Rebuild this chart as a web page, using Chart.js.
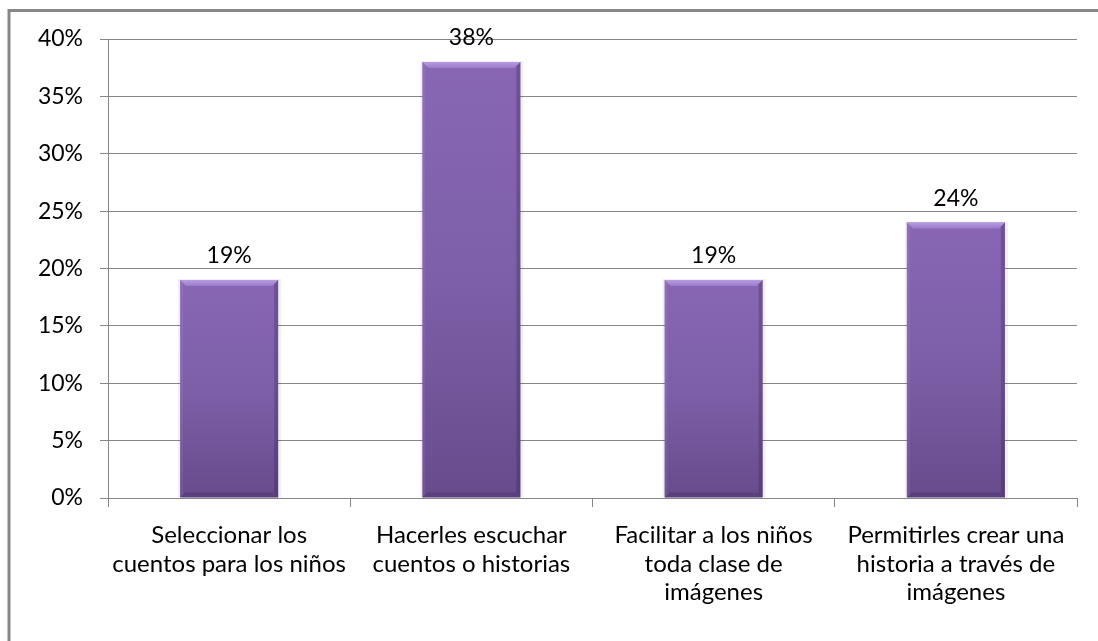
<!DOCTYPE html>
<html>
<head>
<meta charset="utf-8">
<script src="https://cdn.jsdelivr.net/npm/chart.js@4"></script>
<style>
    html, body { margin: 0; padding: 0; background: #fff; }
    #wrap { position: relative; width: 1098px; height: 641px; }
</style>
</head>
<body>
<div id="wrap"><canvas id="chart" width="1098" height="641"></canvas></div>
<script>
// Data
const categories = [
    ['Seleccionar los', 'cuentos para los niños'],
    ['Hacerles escuchar', 'cuentos o historias'],
    ['Facilitar a los niños', 'toda clase de', 'imágenes'],
    ['Permitirles crear una', 'historia a través de', 'imágenes']
];
const values = [19, 38, 19, 24];
const yTicks = [0, 5, 10, 15, 20, 25, 30, 35, 40];

const FONT = 'Lato, "Open Sans", sans-serif';
const GRID = '#868686';

// Outer frame (only left and top edges show in the picture)
const framePlugin = {
    id: 'frame',
    beforeDraw(chart) {
        const ctx = chart.ctx;
        ctx.save();
        ctx.strokeStyle = GRID;
        ctx.lineWidth = 3;
        ctx.beginPath();
        ctx.moveTo(9, 641);
        ctx.lineTo(9, 10.5);
        ctx.lineTo(1098, 10.5);
        ctx.stroke();
        ctx.restore();
    }
};

// soft shadow behind the bars
const shadowPlugin = {
    id: 'barShadow',
    beforeDatasetsDraw(chart) {
        const ctx = chart.ctx;
        ctx.save();
        chart.getDatasetMeta(0).data.forEach(bar => {
            const w = bar.width;
            ctx.fillStyle = 'rgba(0, 0, 0, 0.06)';
            ctx.fillRect(bar.x - w / 2 - 2, bar.y - 1, w + 5, bar.base - bar.y + 1);
        });
        ctx.restore();
    }
};

// bevel look + value labels on top of each bar
const barPlugin = {
    id: 'barStyle',
    afterDatasetsDraw(chart) {
        const ctx = chart.ctx;
        const meta = chart.getDatasetMeta(0);
        ctx.save();
        meta.data.forEach((bar, i) => {
            const w = bar.width;
            const left = bar.x - w / 2;
            const right = bar.x + w / 2;
            const top = bar.y;
            const bottom = bar.base;
            const b = 6;

            // top bevel
            const tg = ctx.createLinearGradient(0, top, 0, top + b);
            tg.addColorStop(0, '#b99be3');
            tg.addColorStop(1, '#9a7bc8');
            ctx.fillStyle = tg;
            ctx.beginPath();
            ctx.moveTo(left, top);
            ctx.lineTo(right, top);
            ctx.lineTo(right - b, top + b);
            ctx.lineTo(left + b, top + b);
            ctx.closePath();
            ctx.fill();

            // left edge
            ctx.fillStyle = 'rgba(255, 255, 255, 0.06)';
            ctx.beginPath();
            ctx.moveTo(left, top);
            ctx.lineTo(left + 3, top + 3);
            ctx.lineTo(left + 3, bottom - 3);
            ctx.lineTo(left, bottom);
            ctx.closePath();
            ctx.fill();

            // right edge
            ctx.fillStyle = 'rgba(40, 20, 70, 0.25)';
            ctx.beginPath();
            ctx.moveTo(right, top);
            ctx.lineTo(right - 4, top + 4);
            ctx.lineTo(right - 4, bottom - 4);
            ctx.lineTo(right, bottom);
            ctx.closePath();
            ctx.fill();

            // bottom edge
            ctx.fillStyle = 'rgba(40, 20, 70, 0.2)';
            ctx.beginPath();
            ctx.moveTo(left, bottom);
            ctx.lineTo(left + 5, bottom - 5);
            ctx.lineTo(right - 5, bottom - 5);
            ctx.lineTo(right, bottom);
            ctx.closePath();
            ctx.fill();

            // value label
            ctx.fillStyle = '#000';
            ctx.font = '23px ' + FONT;
            ctx.textAlign = 'center';
            ctx.textBaseline = 'middle';
            ctx.fillText(values[i] + '%', bar.x, top - 24);
        });
        ctx.restore();
    }
};

function barFill(context) {
    const chart = context.chart;
    if (!chart.chartArea || !chart.scales.y) return '#8064a2';
    const top = chart.scales.y.getPixelForValue(values[context.dataIndex]);
    const base = chart.scales.y.getPixelForValue(0);
    const g = chart.ctx.createLinearGradient(0, top, 0, base);
    g.addColorStop(0, '#8866b4');
    g.addColorStop(0.5, '#7d5fa8');
    g.addColorStop(1, '#674b8c');
    return g;
}

const ctx = document.getElementById('chart').getContext('2d');
const chart = new Chart(ctx, {
    type: 'bar',
    data: {
        labels: categories,
        datasets: [{
            data: values,
            backgroundColor: barFill,
            borderWidth: 0,
            categoryPercentage: 1,
            barPercentage: 0.405
        }]
    },
    options: {
        responsive: false,
        animation: false,
        layout: { padding: { top: 39, right: 21, left: 0, bottom: 0 } },
        plugins: {
            legend: { display: false },
            tooltip: { enabled: false }
        },
        scales: {
            x: {
                afterFit(scale) { scale.height = 143; },
                grid: {
                    display: true,
                    drawOnChartArea: false,
                    offset: true,
                    color: GRID,
                    tickLength: 9
                },
                border: { color: GRID, width: 1 },
                ticks: {
                    color: '#000',
                    font: { family: FONT, size: 24, lineHeight: 1.19 },
                    padding: 14,
                    maxRotation: 0,
                    autoSkip: false
                }
            },
            y: {
                min: 0,
                max: 40,
                afterFit(scale) { scale.width = 108; },
                afterBuildTicks(scale) {
                    scale.ticks = yTicks.map(v => ({ value: v }));
                },
                grid: {
                    color: GRID,
                    tickLength: 8
                },
                border: { color: GRID, width: 1 },
                ticks: {
                    color: '#000',
                    font: { family: FONT, size: 23 },
                    padding: 17,
                    callback: v => v + '%'
                }
            }
        }
    },
    plugins: [framePlugin, shadowPlugin, barPlugin]
});
</script>
</body>
</html>
